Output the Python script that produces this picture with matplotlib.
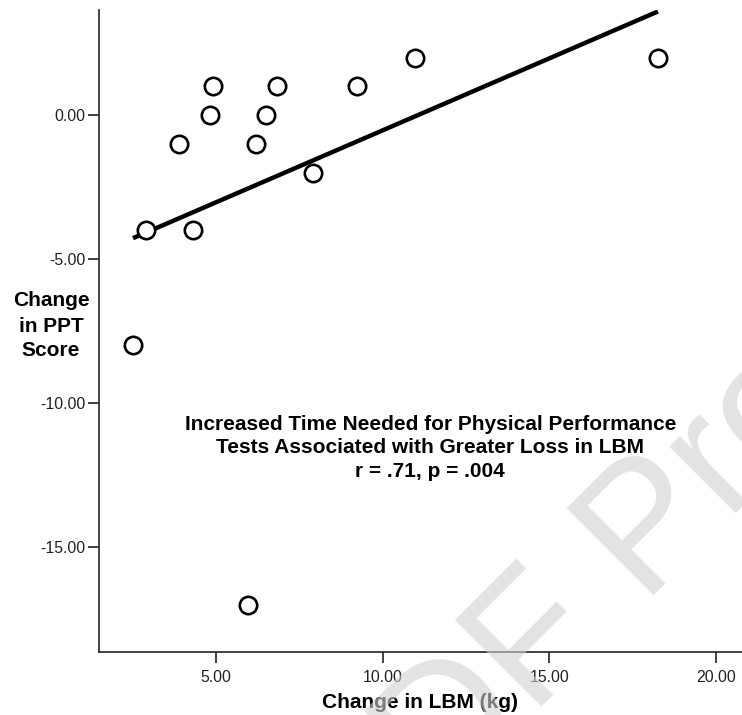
import numpy as np
import matplotlib
matplotlib.use('Agg')
import matplotlib.pyplot as plt
from matplotlib.ticker import FormatStrFormatter

plt.rcParams['font.family'] = ['Liberation Sans', 'DejaVu Sans']

# Data
lbm_change = [2.51, 2.90, 3.89, 4.31, 4.82, 4.91, 6.20, 6.50, 6.83, 7.91, 9.23, 10.97, 18.26, 5.96]
ppt_change = [-8, -4, -1, -4, 0, 1, -1, 0, 1, -2, 1, 2, 2, -17]

# fit line (as drawn)
fit_slope = 0.50
fit_intercept = -5.53

x_ticks = [5, 10, 15, 20]
y_ticks = [-15, -10, -5, 0]

fig = plt.figure(figsize=(7.42, 7.15), dpi=100)
ax = fig.add_axes([0.1334, 0.0881, 0.8666, 0.8979])

# scatter with open circles
ax.plot(lbm_change, ppt_change, linestyle='none', marker='o', ms=12.5,
        mfc='white', mec='black', mew=1.9, zorder=3)

# regression line
fx = np.array([min(lbm_change), max(lbm_change)])
ax.plot(fx, fit_intercept + fit_slope * fx, color='black', lw=3.2,
        solid_capstyle='butt', zorder=2)

ax.set_xlim(1.49, 20.78)
ax.set_ylim(-18.65, 3.65)
ax.set_xticks(x_ticks)
ax.set_yticks(y_ticks)
ax.xaxis.set_major_formatter(FormatStrFormatter('%.2f'))
ax.yaxis.set_major_formatter(FormatStrFormatter('%.2f'))

for side in ['top', 'right']:
    ax.spines[side].set_visible(False)
for side in ['left', 'bottom']:
    ax.spines[side].set_linewidth(1.2)
    ax.spines[side].set_color('#222222')

ax.tick_params(direction='out', length=8, width=1.2, color='#222222',
               labelsize=11.4, labelcolor='#222222', pad=2)
ax.tick_params(axis='x', pad=5)

ax.set_xlabel('Change in LBM (kg)', fontsize=15, fontweight='bold', labelpad=6)

# y label, horizontal, left of the axis
fig.text(51 / 742, 1 - 326 / 715, 'Change\nin PPT\nScore', ha='center', va='center',
         fontsize=15, fontweight='bold', linespacing=1.4)

# annotation in the plot
ax.text(11.43, -11.56,
        'Increased Time Needed for Physical Performance\n'
        'Tests Associated with Greater Loss in LBM\n'
        'r = .71, p = .004',
        ha='center', va='center', fontsize=15, fontweight='bold',
        linespacing=1.28)

# proof watermark over everything
fig.text(358 / 742, 1 - 892 / 715, 'PDF Proof', rotation=45, rotation_mode='anchor',
         ha='left', va='baseline', fontsize=128, color=(0.82, 0.82, 0.82),
         alpha=0.6, zorder=10)

fig.savefig('out.png', dpi=100)
